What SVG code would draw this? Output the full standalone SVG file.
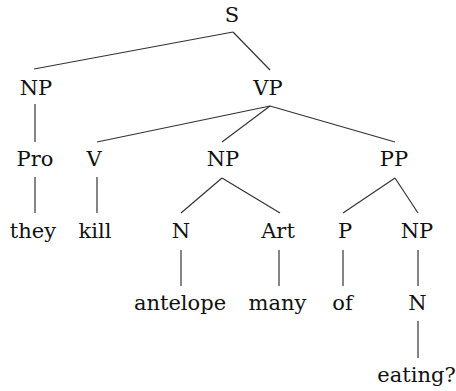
<svg xmlns="http://www.w3.org/2000/svg" width="456" height="391" viewBox="0 0 456 391">
<style>
text{font-family:"DejaVu Serif",serif;font-size:21px;fill:#111;text-anchor:middle}
.e line{stroke:#333;stroke-width:1.2}
</style>
<rect width="456" height="391" fill="#fff"/>
<g class="e" id="edges">
<line x1="233" y1="32" x2="34" y2="69"/>
<line x1="233" y1="32" x2="270" y2="70"/>
<line x1="35" y1="104" x2="35" y2="142"/>
<line x1="270" y1="106" x2="97" y2="142"/>
<line x1="270" y1="106" x2="222" y2="142"/>
<line x1="270" y1="106" x2="395" y2="142"/>
<line x1="35" y1="177" x2="35" y2="213"/>
<line x1="97" y1="177" x2="97" y2="213"/>
<line x1="222" y1="178" x2="181" y2="213"/>
<line x1="222" y1="178" x2="280" y2="213"/>
<line x1="395" y1="178" x2="343" y2="213"/>
<line x1="395" y1="178" x2="418" y2="213"/>
<line x1="181" y1="250" x2="181" y2="286"/>
<line x1="279" y1="250" x2="279" y2="286"/>
<line x1="343" y1="250" x2="343" y2="286"/>
<line x1="418" y1="250" x2="418" y2="286"/>
<line x1="418" y1="321" x2="418" y2="358"/>
</g>
<g id="S"><text x="232" y="22">S</text></g>
<g id="NP1"><text x="36" y="95">NP</text></g>
<g id="VP"><text x="268" y="95">VP</text></g>
<g id="Pro"><text x="35" y="166">Pro</text></g>
<g id="V"><text x="94" y="166">V</text></g>
<g id="NP2"><text x="223" y="166">NP</text></g>
<g id="PP"><text x="394" y="166">PP</text></g>
<g id="they"><text x="33" y="238">they</text></g>
<g id="kill"><text x="95" y="238">kill</text></g>
<g id="N1"><text x="181" y="238">N</text></g>
<g id="Art"><text x="278" y="238">Art</text></g>
<g id="P"><text x="345" y="238">P</text></g>
<g id="NP3"><text x="417" y="238">NP</text></g>
<g id="antelope"><text x="180" y="310">antelope</text></g>
<g id="many"><text x="277.5" y="310">many</text></g>
<g id="of"><text x="342.5" y="310">of</text></g>
<g id="N2"><text x="417.5" y="310">N</text></g>
<g id="eating"><text x="416.5" y="382">eating?</text></g>
</svg>
